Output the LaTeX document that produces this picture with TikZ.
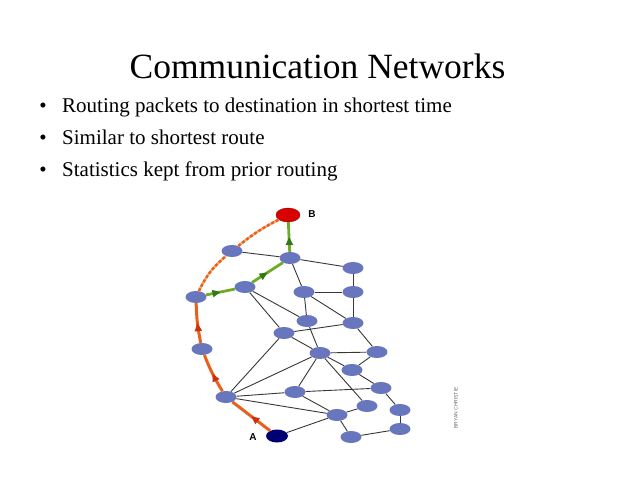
\documentclass[tikz,border=0pt]{standalone}
\usepackage{fontspec}
\setmainfont{Liberation Serif}
\newfontfamily\labfont{Liberation Sans}
\usepackage{tikz}
\usetikzlibrary{shapes.geometric,arrows.meta,decorations.markings}
\usepackage{xcolor}
\definecolor{routerblue}{RGB}{104,118,190}
\definecolor{pathorange}{RGB}{232,96,28}
\definecolor{darkorange}{RGB}{200,50,15}
\definecolor{lightorange}{RGB}{245,170,110}
\definecolor{pathgreen}{RGB}{112,170,40}
\definecolor{darkgreen}{RGB}{50,120,20}
\definecolor{linkgray}{RGB}{55,55,55}

\begin{document}
\begin{tikzpicture}[x=1pt, y=-1pt]
    % styles
    \tikzstyle{router}=[
      ellipse,
      fill=routerblue,
      minimum width=21pt,
      minimum height=12pt,
      inner sep=0pt
    ]
    \tikzstyle{link}=[draw=linkgray, line width=0.9pt]
    \tikzstyle{orangearrow}=[
      postaction={decorate},
      decoration={markings,
        mark=at position 0.5 with {\arrow[darkorange]{Triangle[length=8pt,width=7pt]}}}
    ]
    \tikzstyle{greenarrow}=[
      postaction={decorate},
      decoration={markings,
        mark=at position 0.5 with {\arrow[darkgreen]{Triangle[length=8pt,width=7pt]}}}
    ]
    \tikzstyle{orangepath}=[draw=pathorange, line width=3pt]
    \tikzstyle{greenpath}=[draw=pathgreen, line width=2.8pt]
    \tikzstyle{beadpath}=[draw=pathorange, line width=2.4pt,
      dash pattern=on 3pt off 2pt]
    \tikzstyle{bullettext}=[anchor=base west, inner sep=0pt,
      font=\fontsize{21}{25}\selectfont]

    \useasboundingbox (0,0) rectangle (638,479);

    % Title and bullets
    \node[anchor=base, inner sep=0pt, font=\fontsize{35.5}{40}\selectfont]
      (title) at (317.5,78) {Communication Networks};
    \node[bullettext, anchor=base] (bul1) at (43,112.5) {•};
    \node[bullettext] (txt1) at (62,112.5) {Routing packets to destination in shortest time};
    \node[bullettext, anchor=base] (bul2) at (43,144.5) {•};
    \node[bullettext] (txt2) at (62,144.5) {Similar to shortest route};
    \node[bullettext, anchor=base] (bul3) at (43,176.5) {•};
    \node[bullettext] (txt3) at (62,176.5) {Statistics kept from prior routing};

    % End points
    \node[ellipse, fill=red!85!black, draw=red!55!black, minimum width=24pt,
      minimum height=14pt, inner sep=0pt] (dst) at (288,215) {};
    \node[ellipse, fill=blue!45!black, minimum width=22pt,
      minimum height=13pt, inner sep=0pt] (src) at (277,436) {};
    \node[font=\labfont\bfseries\fontsize{10}{10}\selectfont] (labB) at (312,214) {B};
    \node[font=\labfont\bfseries\fontsize{10}{10}\selectfont] (labA) at (253,437) {A};

    % Routers
    \node[router] (r1) at (232,251) {};
    \node[router] (r2) at (290,258) {};
    \node[router] (r3) at (353,268) {};
    \node[router] (r4) at (196,297) {};
    \node[router] (r5) at (245,287) {};
    \node[router] (r6) at (304,292) {};
    \node[router] (r7) at (353,292) {};
    \node[router] (r8) at (307,321) {};
    \node[router] (r9) at (353,323) {};
    \node[router] (r10) at (284,333) {};
    \node[router] (r11) at (202,349) {};
    \node[router] (r12) at (320,353) {};
    \node[router] (r13) at (377,352) {};
    \node[router] (r14) at (352,370) {};
    \node[router] (r15) at (295,392) {};
    \node[router] (r16) at (381,388) {};
    \node[router] (r17) at (226,397) {};
    \node[router] (r18) at (337,415) {};
    \node[router] (r19) at (367,406) {};
    \node[router] (r20) at (400,410) {};
    \node[router] (r21) at (351,437) {};
    \node[router] (r22) at (400,429) {};

    % Links
    \draw[link] (r1) -- (r2);
    \draw[link] (r2) -- (r3);
    \draw[link] (r2) -- (r6);
    \draw[link] (r3) -- (r7);
    \draw[link] (r6) -- (r7);
    \draw[link] (r6) -- (r8);
    \draw[link] (r6) -- (r9);
    \draw[link] (r7) -- (r9);
    \draw[link] (r5) -- (r8);
    \draw[link] (r5) -- (r10);
    \draw[link] (r10) -- (r9);
    \draw[link] (r8) -- (r12);
    \draw[link] (r9) -- (r13);
    \draw[link] (r10) -- (r12);
    \draw[link] (r12) -- (r13);
    \draw[link] (r12) -- (r14);
    \draw[link] (r13) -- (r14);
    \draw[link] (r12) -- (r15);
    \draw[link] (r12) -- (r19);
    \draw[link] (r14) -- (r16);
    \draw[link] (r15) -- (r16);
    \draw[link] (r16) -- (r20);
    \draw[link] (r20) -- (r22);
    \draw[link] (r22) -- (r21);
    \draw[link] (r18) -- (r21);
    \draw[link] (r18) -- (r19);
    \draw[link] (r15) -- (r18);
    \draw[link] (r17) -- (r10);
    \draw[link] (r17) -- (r12);
    \draw[link] (r17) -- (r15);
    \draw[link] (r17) -- (r18);
    \draw[link] (src) -- (r18);

    % Orange route
    \draw[orangepath, orangearrow] (src) -- (r17);
    \draw[orangepath, orangearrow] (r17) to[bend left=5] (r11);
    \draw[orangepath, orangearrow] (r11) to[bend left=5] (r4);
    \draw[draw=lightorange, line width=2.4pt] (r4) to[bend left=12] (r1);
    \draw[beadpath] (r4) to[bend left=12] (r1);
    \draw[draw=lightorange, line width=2.4pt] (r1) to[bend left=6] (dst);
    \draw[beadpath] (r1) to[bend left=6] (dst);

    % Green route
    \draw[greenpath, greenarrow] (r4) -- (r5);
    \draw[greenpath, greenarrow] (r5) -- (r2);
    \draw[greenpath, greenarrow] (r2) -- (dst);

    % Credit
    \node[rotate=90, text=black!60, font=\labfont\fontsize{5}{5}\selectfont]
      (credit) at (456,408) {BRYAN CHRISTIE};
\end{tikzpicture}
\end{document}
